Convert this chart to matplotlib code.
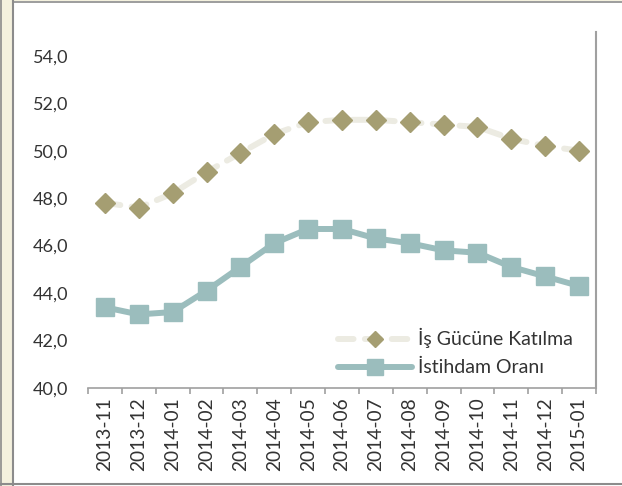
import matplotlib
matplotlib.use("Agg")
import matplotlib.pyplot as plt
from matplotlib.lines import Line2D
from matplotlib.patches import Rectangle
from matplotlib.ticker import FuncFormatter, FixedLocator

categories = ["2013-11", "2013-12", "2014-01", "2014-02", "2014-03", "2014-04", "2014-05",
              "2014-06", "2014-07", "2014-08", "2014-09", "2014-10", "2014-11", "2014-12", "2015-01"]
isgucu = [47.8, 47.6, 48.2, 49.1, 49.9, 50.7, 51.2, 51.3, 51.3, 51.2, 51.1, 51.0, 50.5, 50.2, 50.0]
istihdam = [43.4, 43.1, 43.2, 44.1, 45.1, 46.1, 46.7, 46.7, 46.3, 46.1, 45.8, 45.7, 45.1, 44.7, 44.3]
yticks = [40, 42, 44, 46, 48, 50, 52, 54]
labels = ["İş Gücüne Katılma", "İstihdam Oranı"]

plt.rcParams['font.family'] = ['Lato', 'DejaVu Sans']
FS = 13

W, H = 622, 486
fig = plt.figure(figsize=(W / 100, H / 100), dpi=100, facecolor='white')

# outer frame decorations
fig.add_artist(Rectangle((0, 0), 13 / W, 1, transform=fig.transFigure, facecolor='#F4F1DE', edgecolor='none'))
fig.add_artist(Rectangle((0, 1 - 1.5 / H), 1, 1.5 / H, transform=fig.transFigure, facecolor='#F4F1DE', edgecolor='none'))
fig.add_artist(Line2D([0.5 / W, 0.5 / W], [0, 1], transform=fig.transFigure, color='#8C8C8C', lw=1.2))
fig.add_artist(Line2D([12.5 / W, 12.5 / W], [0, 1 - 1.5 / H], transform=fig.transFigure, color='#8C8C8C', lw=1.5))
fig.add_artist(Line2D([12.5 / W, 1], [1 - 2 / H, 1 - 2 / H], transform=fig.transFigure, color='#8C8C8C', lw=1.2))
fig.add_artist(Line2D([0, 1], [1 - 484 / H, 1 - 484 / H], transform=fig.transFigure, color='#8C8C8C', lw=1.5))

ax = fig.add_axes([88 / W, 1 - 388 / H, (596 - 88) / W, (388 - 32) / H])
ax.set_facecolor('white')
x = list(range(len(categories)))

ax.plot(x, isgucu, color='#ECEBE2', lw=4.3, dashes=(2.6, 1.9), dash_capstyle='round',
        marker='D', markersize=9.8, markerfacecolor='#A59E72', markeredgecolor='#A59E72',
        label=labels[0], zorder=3)
ax.plot(x, istihdam, color='#9BBDBD', lw=4.3, solid_capstyle='round',
        marker='s', markersize=13.5, markerfacecolor='#9BBDBD', markeredgecolor='#9BBDBD',
        label=labels[1], zorder=3)

ax.set_xlim(-0.5, len(categories) - 0.5)
ax.set_ylim(40, 55)
ax.set_yticks(yticks)
ax.yaxis.set_major_formatter(FuncFormatter(lambda v, p: f"{v:.1f}".replace('.', ',')))
ax.set_xticks(x)
ax.set_xticklabels(categories, rotation=90)
ax.xaxis.set_minor_locator(FixedLocator([i - 0.5 for i in range(len(categories) + 1)]))

ax.tick_params(axis='y', length=0, pad=14, labelsize=FS, labelcolor='#333333')
ax.tick_params(axis='x', which='major', length=0, pad=7, labelsize=13.8, labelcolor='#333333')
ax.tick_params(axis='x', which='minor', length=4, width=1.2, color='#A0A0A0', direction='out')

for s in ['left', 'top']:
    ax.spines[s].set_visible(False)
ax.spines['bottom'].set_color('#A0A0A0')
ax.spines['bottom'].set_linewidth(1.2)
ax.spines['right'].set_color('#A0A0A0')
ax.spines['right'].set_linewidth(1.5)

leg = ax.legend(loc='lower right', bbox_to_anchor=(0.969, 0.011), frameon=False,
                handlelength=3.8, handletextpad=0.3, labelspacing=0.55, fontsize=14,
                borderaxespad=0.0)
for t in leg.get_texts():
    t.set_color('#333333')
for h in leg.legend_handles:
    if h.get_marker() == 's':
        h.set_markersize(11)
    else:
        h.set_markersize(8)

fig.savefig('out.png', dpi=100, facecolor='white')
